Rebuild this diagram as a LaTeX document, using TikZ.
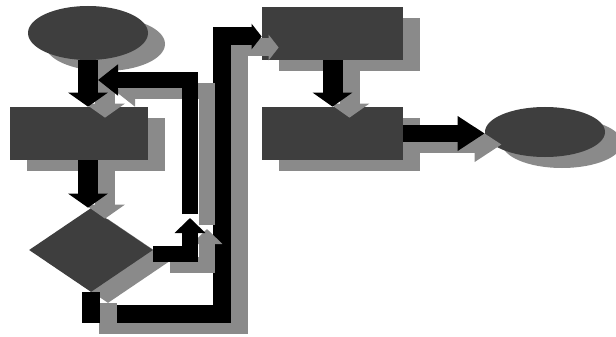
\documentclass[tikz,border=0pt]{standalone}
\usepackage{tikz}
\usetikzlibrary{positioning,arrows.meta,shapes,shadows}

\definecolor{boxgray}{RGB}{62,62,62}
\definecolor{shadegray}{RGB}{138,138,138}

\begin{document}
\begin{tikzpicture}[
  proc/.style={rectangle, fill=boxgray, inner sep=0pt,
    minimum width=2.82cm, minimum height=1.06cm,
    drop shadow={shadow xshift=0.34cm, shadow yshift=-0.22cm, fill=shadegray, opacity=1}},
  term/.style={proc, ellipse, minimum width=2.4cm, minimum height=1.08cm},
  choice/.style={proc, diamond, minimum width=2.48cm, minimum height=1.68cm},
  ghost/.style={draw=shadegray, transform canvas={shift={(0.34,-0.22)}}},
  downtip/.style={-{Triangle[width=0.78cm,length=0.28cm]}},
  uptip/.style={-{Triangle[width=0.6cm,length=0.3cm]}},
  backtip/.style={-{Triangle[width=0.6cm,length=0.4cm]}},
  sidetip/.style={-{Triangle[width=0.66cm,length=0.54cm]}},
  intip/.style={-{Triangle[width=0.5cm,length=0.2cm]}},
]
  \useasboundingbox (0,0) rectangle (12.32,6.72);

  \node[term] (st) at (1.76,6.06) {};
  \node[proc, minimum width=2.76cm] (pA) at (1.58,4.05) {};
  \node[choice] (dc) at (1.82,1.72) {};
  \node[proc] (pB) at (6.65,6.05) {};
  \node[proc] (pC) at (6.65,4.05) {};
  \node[term, minimum height=1.0cm] (en) at (10.90,4.08) {};

  \coordinate (lowturn) at (4.44,0.44);
  \coordinate (upmark) at (3.80,2.36);
  \coordinate (backin) at (1.96,5.12);

  % straight links, shadow first
  \draw[ghost, downtip, line width=0.4cm] (st.south) -- (st.south |- pA.north);
  \draw[downtip, line width=0.4cm] (st.south) -- (st.south |- pA.north);
  \draw[ghost, downtip, line width=0.4cm] (st.south |- pA.south) -- (st.south |- dc.north);
  \draw[downtip, line width=0.4cm] (st.south |- pA.south) -- (st.south |- dc.north);
  \draw[ghost, downtip, line width=0.4cm] (pB.south) -- (pC.north);
  \draw[downtip, line width=0.4cm] (pB.south) -- (pC.north);
  \draw[ghost, sidetip, line width=0.34cm] (pC.east) -- (pC.east -| en.west);
  \draw[sidetip, line width=0.34cm] (pC.east) -- (pC.east -| en.west);

  % long way round from the bottom of the diamond
  \draw[ghost, intip, line width=0.36cm] (dc.south) |- (lowturn) |- ([yshift=-0.06cm]pB.west);
  \draw[intip, line width=0.36cm] (dc.south) |- (lowturn) |- ([yshift=-0.06cm]pB.west);
  \draw[ghost, line width=0.36cm] (dc.south) -- ++(0,-0.62);
  \draw[line width=0.36cm] (dc.south) -- ++(0,-0.62);

  % loop back to the first box
  \draw[ghost, uptip, line width=0.32cm] ([yshift=-0.08cm]dc.east) -| (upmark);
  \draw[ghost, backtip, line width=0.32cm] ([yshift=0.08cm]upmark) |- (backin);
  \draw[uptip, line width=0.32cm] ([yshift=-0.08cm]dc.east) -| (upmark);
  \draw[backtip, line width=0.32cm] ([yshift=0.08cm]upmark) |- (backin);
\end{tikzpicture}
\end{document}
